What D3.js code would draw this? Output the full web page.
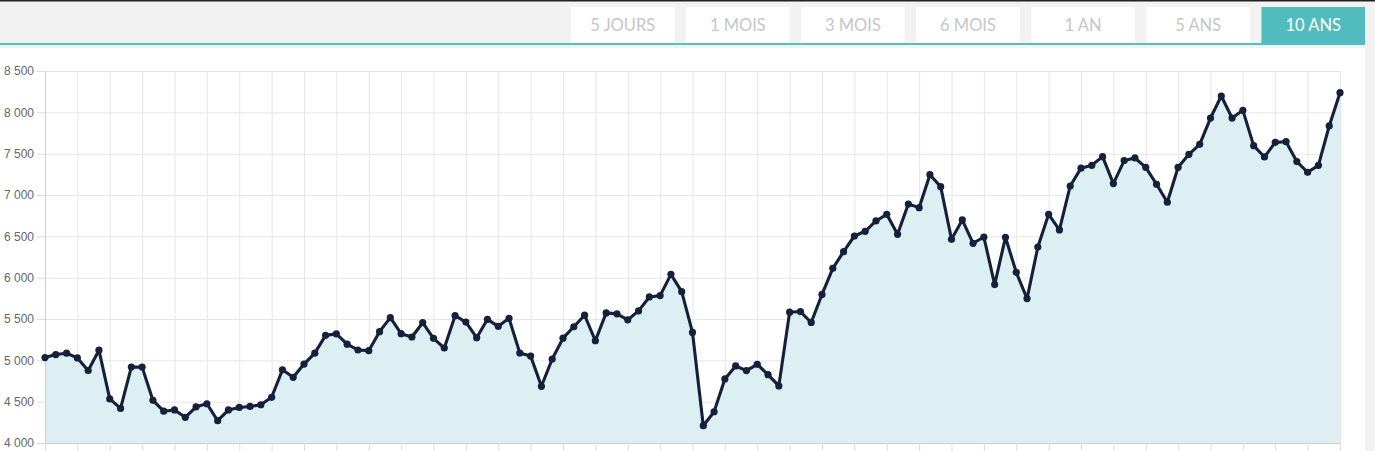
<!DOCTYPE html>
<meta charset="UTF-8">
<script src="https://d3js.org/d3.v7.min.js"></script>
<style>
  body { margin: 0; background: #f2f2f2; overflow: hidden; }
  .grid line { stroke: #e6e6e6; stroke-width: 1; }
  .grid path { stroke: none; }
  .axis text { font-family: "Liberation Sans", Arial, sans-serif; font-size: 12px; fill: #666; }
  .axis line { stroke: #dcdcdc; }
  .axis path { stroke: #d0d0d0; }
  .btn text { font-family: Lato, "Open Sans", sans-serif; font-size: 16.5px; }
</style>
<body>
<div id="chart"></div>
<script>

// monthly closing values, 10 years (121 points)
var values = [
  5033, 5070, 5086, 5029, 4877, 5123, 4533, 4418, 4918, 4918,
  4516, 4385, 4400, 4311, 4438, 4475, 4270, 4400, 4430, 4442,
  4463, 4553, 4885, 4795, 4955, 5087, 5302, 5320, 5196, 5125,
  5117, 5347, 5516, 5322, 5282, 5455, 5266, 5149, 5540, 5463,
  5274, 5496, 5411, 5508, 5089, 5052, 4686, 5016, 5268, 5406,
  5546, 5237, 5574, 5562, 5490, 5598, 5767, 5783, 6040, 5831,
  5337, 4209, 4378, 4775, 4932, 4876, 4952, 4827, 4691, 5582,
  5590, 5458, 5797, 6113, 6315, 6504, 6561, 6686, 6766, 6524,
  6891, 6847, 7246, 7101, 6464, 6698, 6416, 6492, 5916, 6488,
  6065, 5747, 6371, 6766, 6577, 7109, 7325, 7359, 7464, 7138,
  7416, 7448, 7335, 7130, 6912, 7335, 7492, 7613, 7931, 8197,
  7931, 8024, 7597, 7460, 7637, 7645, 7404, 7275, 7359, 7835,
  8238
];

var yTicks = [4000, 4500, 5000, 5500, 6000, 6500, 7000, 7500, 8000, 8500];
var yTickLabels = ["4 000", "4 500", "5 000", "5 500", "6 000", "6 500", "7 000", "7 500", "8 000", "8 500"];
var periods = ["5 JOURS", "1 MOIS", "3 MOIS", "6 MOIS", "1 AN", "5 ANS", "10 ANS"];
var activePeriod = "10 ANS";

var W = 1375, H = 451;
var plotLeft = 45, plotRight = 1340, plotTop = 71, plotBottom = 443;

var svg = d3.select("#chart").append("svg")
  .attr("width", W).attr("height", H);

// background: grey header, white panel
svg.append("rect").attr("x", 0).attr("y", 0).attr("width", W).attr("height", H).attr("fill", "#f2f2f2");
svg.append("rect").attr("x", 0).attr("y", 0).attr("width", W).attr("height", 1.5).attr("fill", "#222");
svg.append("rect").attr("x", 0).attr("y", 44).attr("width", 1365).attr("height", H - 44).attr("fill", "#fff");
svg.append("rect").attr("x", 0).attr("y", 45).attr("width", 1365).attr("height", 3).attr("fill", "#eaeaea").attr("opacity", 0.6);
svg.append("rect").attr("x", 0).attr("y", 43).attr("width", 1365).attr("height", 2).attr("fill", "#53bfbf");

// period buttons
var btn = d3.scaleBand().domain(periods).range([571, 1365]).paddingInner(0.1).paddingOuter(0);
var b = svg.append("g").attr("class", "btn")
  .selectAll("g").data(periods).enter().append("g");
b.append("rect")
  .attr("x", function (d) { return btn(d); })
  .attr("y", 7)
  .attr("width", btn.bandwidth())
  .attr("height", 36)
  .attr("fill", function (d) { return d == activePeriod ? "#50bcbd" : "#fff"; });
b.append("text")
  .attr("x", function (d) { return btn(d) + btn.bandwidth() / 2; })
  .attr("y", 31)
  .attr("text-anchor", "middle")
  .attr("fill", function (d) { return d == activePeriod ? "#fff" : "#c6c6c6"; })
  .text(function (d) { return d; });

var x = d3.scaleLinear().domain([0, values.length - 1]).range([plotLeft, plotRight]);
var y = d3.scaleLinear().domain([4000, 8500]).range([plotBottom, plotTop]);

var xTicks = d3.range(0, values.length, 3);

// grid
svg.append("g").attr("class", "grid")
  .attr("transform", "translate(0," + plotBottom + ")")
  .call(d3.axisBottom(x).tickValues(xTicks).tickSize(-(plotBottom - plotTop)).tickSizeOuter(0).tickFormat(""));
svg.append("g").attr("class", "grid")
  .attr("transform", "translate(" + plotLeft + ",0)")
  .call(d3.axisLeft(y).tickValues(yTicks).tickSize(-(plotRight - plotLeft)).tickSizeOuter(0).tickFormat(""));

// area + line
var area = d3.area()
  .x(function (d, i) { return x(i); })
  .y0(y(4000))
  .y1(function (d) { return y(d); });
svg.append("path").datum(values).attr("d", area).attr("fill", "#ddeff2");

// axes
svg.append("g").attr("class", "axis")
  .attr("transform", "translate(0," + plotBottom + ")")
  .call(d3.axisBottom(x).tickValues(xTicks).tickSize(8).tickSizeOuter(0).tickFormat(""))
  .select(".domain").attr("stroke", "#e0e0e0");
svg.append("g").attr("class", "axis")
  .attr("transform", "translate(" + plotLeft + ",0)")
  .call(d3.axisLeft(y).tickValues(yTicks).tickSize(8).tickPadding(3).tickSizeOuter(0)
    .tickFormat(function (d, i) { return yTickLabels[i]; }));

var line = d3.line()
  .x(function (d, i) { return x(i); })
  .y(function (d) { return y(d); });
svg.append("path").datum(values).attr("d", line)
  .attr("fill", "none").attr("stroke", "#15213a").attr("stroke-width", 3.1)
  .attr("stroke-linejoin", "round");

svg.append("g").selectAll("circle").data(values).enter().append("circle")
  .attr("cx", function (d, i) { return x(i); })
  .attr("cy", function (d) { return y(d); })
  .attr("r", 3.6)
  .attr("fill", "#15213a");

</script>
</body>
